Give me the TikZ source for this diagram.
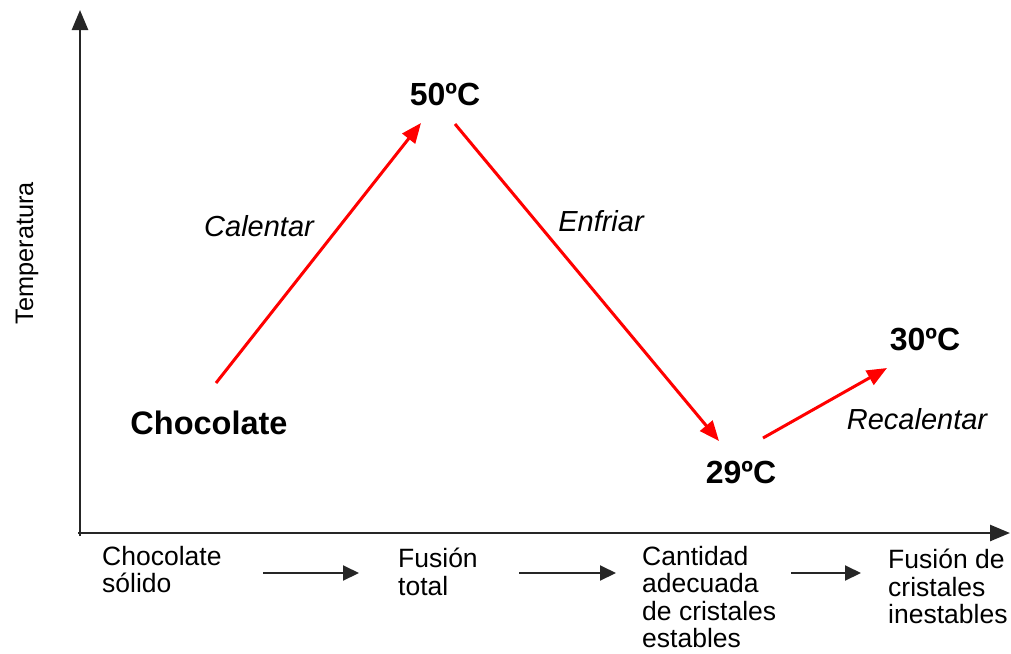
\documentclass[tikz,border=0pt]{standalone}
\usepackage{fontspec}
\setmainfont{Liberation Sans}
\usetikzlibrary{arrows.meta}
\tikzset{
  axis/.style={draw=black!85, line width=2.6pt, -{Triangle[length=20pt,width=16pt]}},
  heat/.style={draw=red, line width=3pt, -{Triangle[length=20pt,width=16pt]}},
  flow/.style={draw=black!85, line width=2pt, -{Triangle[length=16pt,width=15pt]}},
  temp/.style={font=\fontsize{32}{36}\selectfont\bfseries, inner sep=0pt},
  act/.style={font=\fontsize{29}{33}\selectfont\itshape, inner sep=0pt},
  stage/.style={font=\fontsize{26.5}{27.5}\selectfont, align=left, anchor=north west, inner sep=0pt},
}
\begin{document}
\begin{tikzpicture}[x=1pt,y=-1pt]
\useasboundingbox (0,0) rectangle (1011,653);
% axes
\coordinate (o) at (80,533);
\coordinate (ytop) at (80,10);
\coordinate (xend) at (1010,533);
\draw[axis] (80,536) -- (ytop);
\draw[axis] (78,533) -- (xend);
\node[rotate=90, font=\fontsize{25.3}{28}\selectfont, inner sep=0pt] (ylab) at (27,253) {Temperatura};

% temperature points
\node[temp, font=\fontsize{32.5}{36}\selectfont\bfseries] (choc) at (209,423) {Chocolate};
\node[temp] (t50) at (445,94) {50ºC};
\node[temp] (t29) at (741,472) {29ºC};
\node[temp] (t30) at (925,340) {30ºC};

% process steps
\coordinate (a1) at (216,383);
\coordinate (b1) at (421,123);
\coordinate (a2) at (455,124);
\coordinate (b2) at (719,441);
\coordinate (a3) at (763,438);
\coordinate (b3) at (887,368);
\draw[heat] (a1) -- (b1);
\draw[heat] (a2) -- (b2);
\draw[heat] (a3) -- (b3);
\node[act] (cal) at (259,226) {Calentar};
\node[act] (enf) at (601,221) {Enfriar};
\node[act] (rec) at (917,419) {Recalentar};

% stages along the horizontal axis
\node[stage] (s1) at (102,546) {Chocolate\\sólido};
\node[stage] (s2) at (398,548) {Fusión\\total};
\node[stage] (s3) at (642,546) {Cantidad\\adecuada\\de cristales\\estables};
\node[stage] (s4) at (888,549) {Fusión de\\cristales\\inestables};
\coordinate (f1a) at (263,573);
\coordinate (f1b) at (359,573);
\coordinate (f2a) at (519,573);
\coordinate (f2b) at (616,573);
\coordinate (f3a) at (791,573);
\coordinate (f3b) at (861,573);
\draw[flow] (f1a) -- (f1b);
\draw[flow] (f2a) -- (f2b);
\draw[flow] (f3a) -- (f3b);
\end{tikzpicture}
\end{document}
